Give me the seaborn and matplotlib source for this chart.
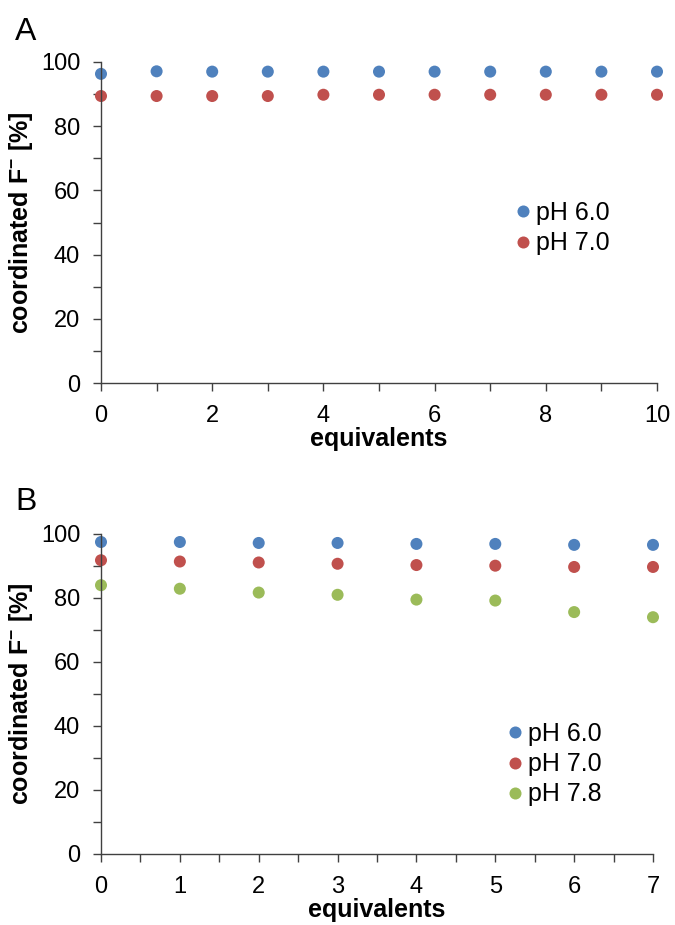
import pandas as pd
import matplotlib.pyplot as plt
import seaborn as sns
from matplotlib.ticker import MultipleLocator

# panel A: 0..10 equivalents
eq_a = [0, 1, 2, 3, 4, 5, 6, 7, 8, 9, 10]
a_ph60 = [96.3, 97.1, 97.0, 97.0, 97.0, 97.0, 97.0, 97.0, 97.0, 97.0, 97.0]
a_ph70 = [89.4, 89.4, 89.4, 89.4, 89.8, 89.8, 89.8, 89.8, 89.8, 89.8, 89.8]

# panel B: 0..7 equivalents
eq_b = [0, 1, 2, 3, 4, 5, 6, 7]
b_ph60 = [97.5, 97.5, 97.2, 97.2, 96.9, 96.9, 96.6, 96.6]
b_ph70 = [91.8, 91.4, 91.1, 90.7, 90.3, 90.1, 89.7, 89.7]
b_ph78 = [84.0, 82.9, 81.7, 81.0, 79.5, 79.2, 75.6, 74.0]

colors = {"pH 6.0": "#4F81BD", "pH 7.0": "#C0504D", "pH 7.8": "#9BBB59"}

df_a = pd.DataFrame({"equivalents": eq_a * 2,
                     "value": a_ph60 + a_ph70,
                     "series": ["pH 6.0"] * len(eq_a) + ["pH 7.0"] * len(eq_a)})
df_b = pd.DataFrame({"equivalents": eq_b * 3,
                     "value": b_ph60 + b_ph70 + b_ph78,
                     "series": ["pH 6.0"] * len(eq_b) + ["pH 7.0"] * len(eq_b) + ["pH 7.8"] * len(eq_b)})

sns.set_style("white")
plt.rcParams['font.family'] = ['Liberation Sans', 'DejaVu Sans']
plt.rcParams['mathtext.fontset'] = 'custom'
plt.rcParams['mathtext.rm'] = 'Liberation Sans'
plt.rcParams['mathtext.bf'] = 'Liberation Sans:bold'
plt.rcParams['text.color'] = 'black'
plt.rcParams['axes.labelcolor'] = 'black'
plt.rcParams['xtick.color'] = 'black'
plt.rcParams['ytick.color'] = 'black'

W, H = 675, 925
fig = plt.figure(figsize=(W / 100, H / 100), dpi=100)
ax1 = fig.add_axes([101/W, 1 - 383/H, 556/W, 321/H])
ax2 = fig.add_axes([101/W, 1 - 854/H, 552/W, 320/H])


def style(ax, xmax, xmajor, xminor, leg_x, leg_y):
    ax.set_ylim(0, 100)
    ax.set_xlim(0, xmax)
    ax.yaxis.set_major_locator(MultipleLocator(20))
    ax.yaxis.set_minor_locator(MultipleLocator(10))
    ax.xaxis.set_major_locator(MultipleLocator(xmajor))
    ax.xaxis.set_minor_locator(MultipleLocator(xminor))
    for s in ["top", "right"]:
        ax.spines[s].set_visible(False)
    for s in ["left", "bottom"]:
        ax.spines[s].set_color("#404040")
        ax.spines[s].set_linewidth(1.0)
    ax.tick_params(axis="both", which="both", direction="out", length=6, width=1,
                   color="#404040", labelcolor="black", bottom=True, left=True)
    ax.tick_params(axis="both", which="major", labelsize=17)
    ax.tick_params(axis="x", which="major", pad=10)
    ax.tick_params(axis="y", which="major", pad=9)
    ax.set_xlabel("equivalents", fontsize=18, fontweight="bold", labelpad=0)
    ax.set_ylabel("coordinated F$^{\\mathbf{-}}$ [%]", fontsize=18, fontweight="bold", labelpad=4)
    ax.legend(loc="upper left", bbox_to_anchor=(leg_x / W, 1 - leg_y / H),
              bbox_transform=fig.transFigure, frameon=False, fontsize=18,
              handlelength=1.0, handletextpad=0.05, labelspacing=0.25,
              borderpad=0, borderaxespad=0)


sns.scatterplot(data=df_a, x="equivalents", y="value", hue="series", palette=colors,
                s=75, edgecolor="none", ax=ax1, clip_on=False)
style(ax1, 10, 2, 1, 510, 201)

sns.scatterplot(data=df_b, x="equivalents", y="value", hue="series", palette=colors,
                s=75, edgecolor="none", ax=ax2, clip_on=False)
style(ax2, 7, 1, 0.5, 502, 722)

fig.text(15/W, 1 - 40/H, "A", fontsize=23, va="baseline")
fig.text(15/W, 1 - 510/H, "B", fontsize=23, va="baseline")

fig.savefig("out.png", dpi=100, facecolor="white")
